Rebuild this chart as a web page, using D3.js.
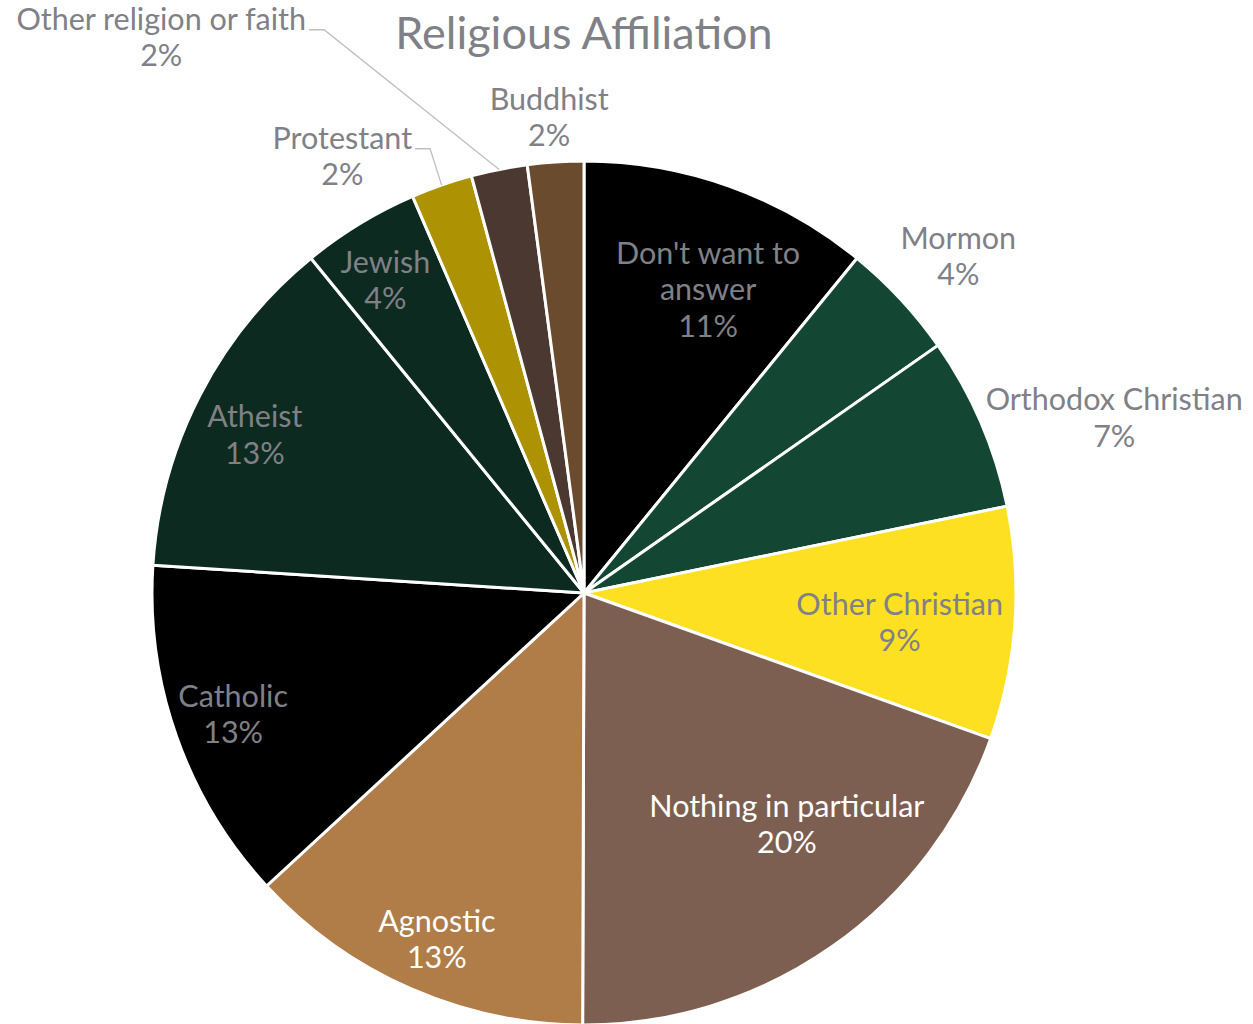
<!DOCTYPE html>
<html>
<head>
<meta charset="utf-8">
<script src="https://cdn.jsdelivr.net/npm/d3@7"></script>
<style>
  html, body { margin: 0; padding: 0; background: #ffffff; }
  svg { display: block; }
  text { font-family: Lato, "Open Sans", sans-serif; }
</style>
</head>
<body>
<svg id="chart" width="1253" height="1024"></svg>
<script>
// Survey answers, in clockwise order from 12 o'clock (percent of respondents)
const categories = [
  "Don't want to answer", "Mormon", "Orthodox Christian", "Other Christian",
  "Nothing in particular", "Agnostic", "Catholic", "Atheist", "Jewish",
  "Protestant", "Other religion or faith", "Buddhist"
];
const shares = [10.9, 4.4, 6.5, 8.7, 19.6, 13.1, 12.9, 13.1, 4.4, 2.3, 2.1, 2.1];

// Slice fills
const fills = [
  "#000000", "#144634", "#144634", "#fde022",
  "#7d5f52", "#b07d48", "#000000", "#0c2a20", "#0c2a20",
  "#ad9203", "#4b3830", "#6b4b2e"
];
// Label text colours (white reads better on the mid browns)
const labelColors = [
  "#808087", "#808087", "#808087", "#808087",
  "#ffffff", "#ffffff", "#808087", "#808087", "#808087",
  "#808087", "#808087", "#808087"
];
// Label block placement: polar angle (deg, clockwise from top) and radius as a fraction of the pie radius
const labelAngle  = [22.3, 48.1, 71.8, 95.4, 138.8, 203.0, 250.8, 295.6, 327.5, 331.0, 322.7, 355.8];
const labelRadius = [0.757, 1.164, 1.292, 0.734, 0.713, 0.872, 0.860, 0.845, 0.856, 1.154, 1.615, 1.102];
// Slices whose label gets a leader line back to the rim
const withLeader = ["Protestant", "Other religion or faith"];
// Line breaks for long names
const wrapped = { "Don't want to answer": ["Don't want to", "answer"] };

const title = "Religious Affiliation";

const W = 1253, H = 1024;
const cx = 584, cy = 593, R = 432;
const fontSize = 30.5, lineGap = 36.5;

const svg = d3.select("#chart");

svg.append("text")
  .attr("x", cx).attr("y", 49)
  .attr("text-anchor", "middle")
  .attr("fill", "#808087")
  .attr("font-size", 45)
  .text(title);

const data = categories.map((name, i) => ({ name, value: shares[i], i }));
const pie = d3.pie().value(d => d.value).sort(null);
const arcs = pie(data);
const arc = d3.arc().innerRadius(0).outerRadius(R);

const g = svg.append("g").attr("transform", `translate(${cx},${cy})`);

g.selectAll("path.slice")
  .data(arcs)
  .join("path")
  .attr("class", "slice")
  .attr("d", arc)
  .attr("fill", d => fills[d.data.i])
  .attr("stroke", "#ffffff")
  .attr("stroke-width", 3)
  .attr("stroke-linejoin", "round");

const fmt = v => Math.round(v) + "%";
const polar = (deg, r) => {
  const a = deg * Math.PI / 180;
  return [r * Math.sin(a), -r * Math.cos(a)];
};

const labels = g.append("g");
arcs.forEach(d => {
  const i = d.data.i;
  const lines = (wrapped[d.data.name] || [d.data.name]).concat([fmt(d.data.value)]);
  const [lx, ly] = polar(labelAngle[i], labelRadius[i] * R);
  const top = ly - (lines.length - 1) * lineGap / 2;
  const t = labels.append("text")
    .attr("text-anchor", "middle")
    .attr("fill", labelColors[i])
    .attr("font-size", fontSize);
  lines.forEach((s, k) => {
    t.append("tspan")
      .attr("x", lx)
      .attr("y", top + k * lineGap + 10)
      .text(s);
  });

  if (withLeader.includes(d.data.name)) {
    const first = t.select("tspan").node();
    const w = first.getComputedTextLength();
    const yLine = top + 10;
    const x0 = lx + w / 2 + 3;
    const mid = (d.startAngle + d.endAngle) / 2;
    const ex = R * Math.sin(mid), ey = -R * Math.cos(mid);
    labels.append("polyline")
      .attr("points", [[x0, yLine], [x0 + 15, yLine], [ex, ey]].map(p => p.join(",")).join(" "))
      .attr("fill", "none")
      .attr("stroke", "#bfbfbf")
      .attr("stroke-width", 1.3);
  }
});
</script>
</body>
</html>
